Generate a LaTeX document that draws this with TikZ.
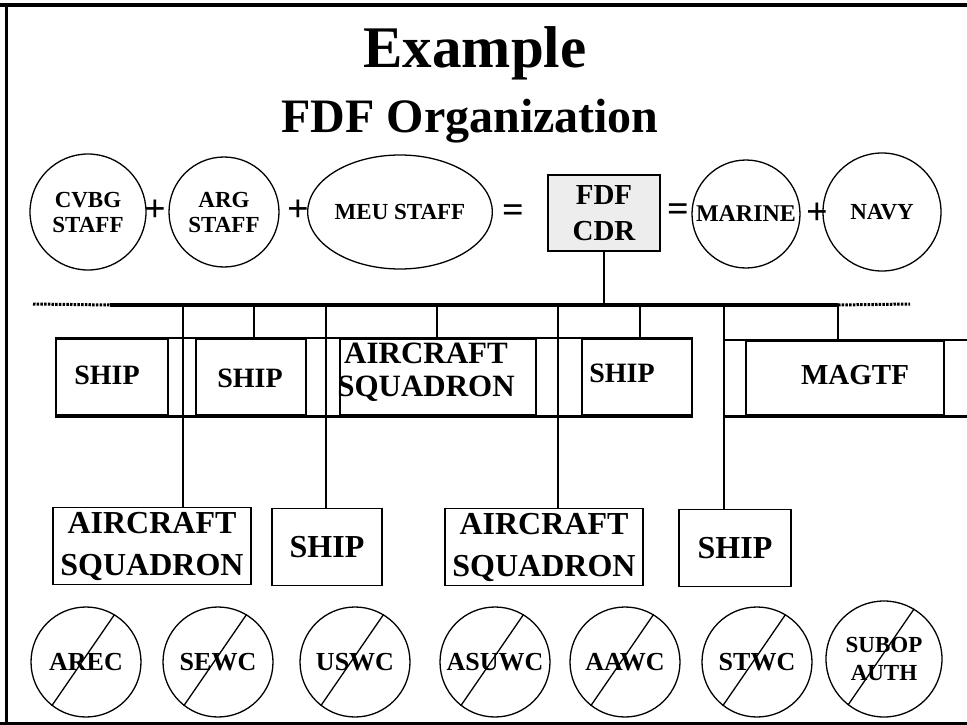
\documentclass[tikz,border=0pt]{standalone}
\usepackage{fontspec}
\setmainfont{Liberation Serif}
\usetikzlibrary{shapes.geometric}

\newcommand{\setsz}[2]{\fontsize{#1}{#2}\selectfont}

\begin{document}
\begin{tikzpicture}[x=1pt, y=-1pt,
    frame/.style={line width=3pt},
    bus/.style={line width=3.2pt},
    noise/.style={line width=3pt, black, dash pattern=on 2.5pt off 1.2pt},
    drop/.style={line width=2pt},
    rail/.style={line width=2.8pt},
    staff/.style={circle, draw, line width=1.3pt, inner sep=0pt, align=center,
      font=\bfseries\setsz{23}{25}},
    sign/.style={font=\bfseries\setsz{38}{38}},
    cmd/.style={draw, line width=1.6pt, fill=black!7, minimum width=112,
      minimum height=76, align=center, font=\bfseries\setsz{29}{36}},
    unit/.style={draw, line width=2.2pt, minimum height=76, inner sep=0pt},
    unitlbl/.style={font=\bfseries\setsz{28}{33}, align=center},
    sub/.style={draw, line width=1.7pt, inner sep=2pt, minimum height=77,
      align=center, font=\bfseries\setsz{32}{42}},
    warc/.style={circle, draw, line width=1.3pt, minimum size=110,
      inner sep=0pt, align=center, font=\bfseries\setsz{26}{28}},
    strike/.style={line width=1.3pt}]

  \useasboundingbox (0,0) rectangle (967,725);

  % ---- page frame ----
  \draw[frame, line width=4pt] (0,5) -- (967,5);
  \draw[frame] (6,5) -- (6,723);
  \draw[frame] (0,723) -- (967,723);

  % ---- titles ----
  \node[font=\bfseries\setsz{59}{60}, anchor=base] (title) at (475,67) {Example};
  \node[font=\bfseries\setsz{48}{50}, anchor=base] (subtitle) at (470,132)
      {FDF Organization};

  % ---- the staff sum ----
  \node[staff, minimum size=116] (cvbg) at (88,212) {CVBG\\STAFF};
  \node[sign] (p1) at (155,211) {+};
  \node[staff, minimum size=110] (arg) at (224,212) {ARG\\STAFF};
  \node[sign] (p2) at (298,211) {+};
  \node[staff, ellipse, minimum width=166, minimum height=114] (meu)
      at (400,212) {MEU STAFF};
  \node[sign] (e1) at (513,214) {=};
  \node[cmd] (cdr) at (604,213) {FDF\\CDR};
  \node[sign] (e2) at (678,213) {=};
  \node[staff, minimum size=108, font=\bfseries\setsz{24}{26}] (marine)
      at (746,214) {MARINE};
  \node[sign] (p3) at (817,214) {+};
  \node[staff, minimum size=118] (navy) at (882,212) {NAVY};

  % ---- the bus under the commander ----
  \coordinate (busL) at (110,305);
  \coordinate (busR) at (838,305);
  \draw[bus] (busL) -- (busR);
  \draw[noise] (33,304) -- (busL);
  \draw[noise] (busR) -- (910,304);
  \draw[drop] (cdr.south) -- (cdr.south |- busL);

  \coordinate (t1) at (183,305);
  \coordinate (t2) at (254,305);
  \coordinate (t3) at (326,305);
  \coordinate (t4) at (437,305);
  \coordinate (t5) at (558,305);
  \coordinate (t6) at (640,305);
  \coordinate (t7) at (724,305);
  \coordinate (t8) at (838,305);

  % ---- first echelon ----
  \node[unit, minimum width=112] (ship1) at (112,377) {};
  \node[unit, minimum width=110] (ship2) at (251,377) {};
  \node[unit, minimum width=196] (acs) at (438,377) {};
  \node[unit, minimum width=110] (ship3) at (637,377) {};
  \draw[rail] (ship1.north west) -- (ship3.north east);
  \draw[rail] (ship1.south west) -- (ship3.south east);

  \node[unit, minimum width=198, minimum height=74] (magtf) at (845,378) {};
  \draw[rail] ([xshift=-22pt]magtf.north west)
      -- ([xshift=23pt]magtf.north east);
  \draw[rail] ([xshift=-22pt]magtf.south west)
      -- ([xshift=23pt]magtf.south east);

  \node[unitlbl] (ship1lbl) at (107,375) {SHIP};
  \node[unitlbl] (ship2lbl) at (250,378) {SHIP};
  \node[unitlbl, font=\bfseries\setsz{31}{33}] (acslbl) at (426,372)
      {AIRCRAFT\\SQUADRON};
  \node[unitlbl] (ship3lbl) at (622,373) {SHIP};
  \node[unitlbl, font=\bfseries\setsz{29}{33}] (magtflbl) at (855,375) {MAGTF};

  \draw[drop] (t2) -- (t2 |- ship2.north);
  \draw[drop] (t4) -- (t4 |- acs.north);
  \draw[drop] (t6) -- (t6 |- ship3.north);
  \draw[drop] (t8) -- (t8 |- magtf.north);

  % ---- second echelon ----
  \node[sub, minimum width=198] (lac1) at (152,546) {AIRCRAFT\\SQUADRON};
  \node[sub, minimum width=110] (lship1) at (327,547) {SHIP};
  \node[sub, minimum width=198] (lac2) at (544,547) {AIRCRAFT\\SQUADRON};
  \node[sub, minimum width=112] (lship2) at (735,548) {SHIP};

  \draw[drop] (t1) -- (t1 |- lac1.north);
  \draw[drop] (t3) -- (t3 |- lship1.north);
  \draw[drop] (t5) -- (t5 |- lac2.north);
  \draw[drop] (t7) -- (t7 |- lship2.north);

  % ---- warfare commanders, struck out ----
  \node[warc] (arec) at (86,662) {AREC};
  \node[warc] (sewc) at (218,662) {SEWC};
  \node[warc] (uswc) at (355,662) {USWC};
  \node[warc] (asuwc) at (495,662) {ASUWC};
  \node[warc] (aawc) at (625,662) {AAWC};
  \node[warc] (stwc) at (757,662) {STWC};
  \node[warc, minimum size=116, font=\bfseries\setsz{23}{28}] (subop)
      at (884,659) {SUBOP\\AUTH};

  \draw[strike] (arec.232) -- (arec.59);
  \draw[strike] (sewc.232) -- (sewc.59);
  \draw[strike] (uswc.232) -- (uswc.59);
  \draw[strike] (asuwc.232) -- (asuwc.59);
  \draw[strike] (aawc.232) -- (aawc.59);
  \draw[strike] (stwc.232) -- (stwc.59);
  \draw[strike] (subop.232) -- (subop.59);

\end{tikzpicture}
\end{document}
